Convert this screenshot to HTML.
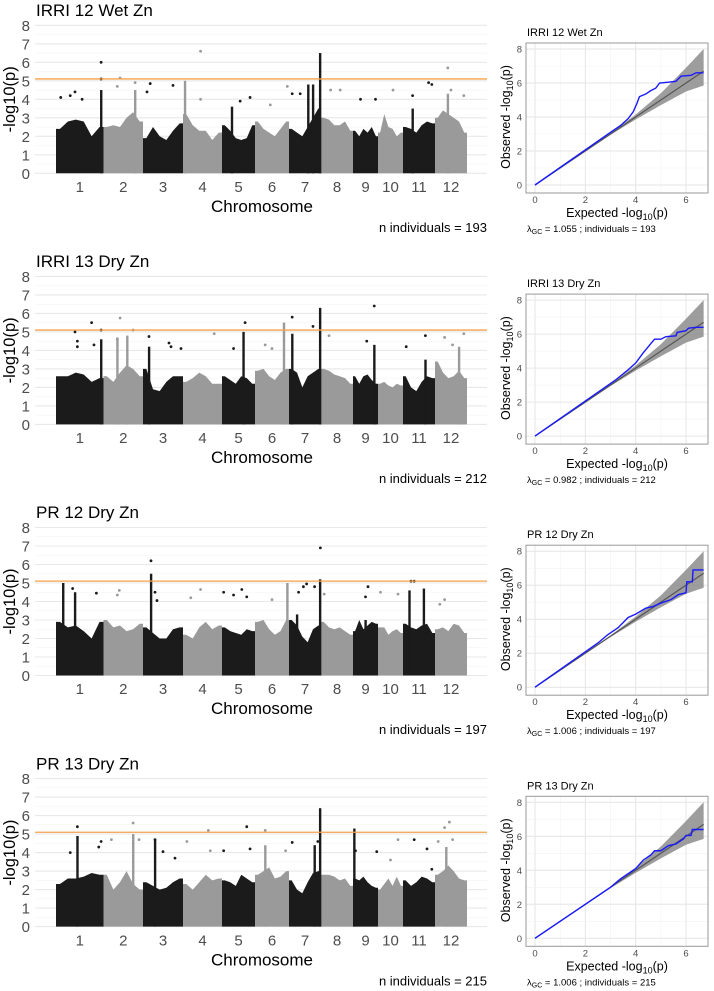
<!DOCTYPE html>
<html><head><meta charset="utf-8"><style>
html,body{margin:0;padding:0;background:#fff;}
svg{display:block;font-family:"Liberation Sans",sans-serif;}
</style></head><body>
<svg id="fig" width="714" height="991" viewBox="0 0 714 991"></svg>
<script>
// ---------- DATA ----------
const panelTitles = ["IRRI 12 Wet Zn","IRRI 13 Dry Zn","PR 12 Dry Zn","PR 13 Dry Zn"];
const nIndividuals = [193,212,197,215];
const lambdaGC = ["1.055","0.982","1.006","1.006"];
const threshold = 5.1;
const chromLabels = ["1","2","3","4","5","6","7","8","9","10","11","12"];
const chromStart = [56,103.5,143,183,222,255,289,321,353,378,403,435,467];
const yTicks = [0,1,2,3,4,5,6,7,8];
const qqTicks = [0,2,4,6];
const qqYTicks = [0,2,4,6,8];

const envelope1 = [[2.4,2.8,2.9,2.8,2.0,2.5],[2.5,2.6,2.5,3.0,3.3,2.8],[1.9,2.5,2.0,1.8,2.3,2.7],[3.2,2.6,2.3,2.3,1.8,2.2],[2.6,2.3,1.9,1.8,1.9,2.6],[2.8,2.4,2.2,2.0,2.4,2.8],[2.4,2.2,2.0,2.5,3.0,3.5],[3.0,2.9,2.6,2.6,2.8,2.3],[2.3,2.0,2.4,2.2,2.5,2.0],[2.2,3.2,2.5,2.4,2.0,2.2],[2.5,2.4,2.2,2.6,2.8,2.7],[3.0,3.4,3.2,3.0,2.8,2.2]];
const envelope2 = [[2.6,2.6,2.8,2.7,2.3,2.5],[2.6,2.3,2.8,3.2,3.0,2.6],[3.0,1.9,1.8,2.3,2.6,2.6],[2.3,2.5,2.8,2.6,2.2,2.2],[2.6,2.4,2.2,2.6,2.5,2.2],[2.9,3.0,2.6,2.4,2.8,3.0],[3.0,2.8,2.0,2.6,2.8,3.0],[3.0,2.9,2.7,2.6,2.5,2.2],[2.6,2.2,2.6,2.7,2.4,2.2],[2.2,2.3,2.1,2.0,2.2,2.1],[2.6,2.0,1.8,2.3,2.6,2.5],[3.4,2.8,2.5,2.6,2.9,2.5]];
const envelope3 = [[2.9,2.6,2.7,2.4,2.0,2.9],[3.0,2.6,2.7,2.4,2.5,2.8],[2.6,2.3,2.0,2.0,2.5,2.6],[2.2,2.0,2.6,2.9,2.5,2.7],[2.6,2.4,2.3,2.2,2.5,2.4],[2.9,3.0,2.5,2.2,2.4,3.0],[3.0,2.7,2.1,1.8,2.5,2.7],[2.9,2.6,2.5,2.6,2.4,2.2],[2.4,3.0,2.5,2.7,2.9,2.8],[2.6,2.6,2.2,2.4,2.5,2.3],[2.8,2.6,2.5,2.7,2.8,2.3],[2.5,2.6,2.4,2.8,2.7,2.3]];
const envelope4 = [[2.3,2.6,2.6,2.7,2.9,2.8],[2.8,2.0,2.4,3.0,2.3,2.0],[2.4,2.2,2.0,2.1,2.4,2.6],[2.3,2.0,2.4,2.8,2.5,2.6],[2.5,2.4,2.2,2.8,2.6,2.4],[2.8,3.0,3.2,2.6,2.7,3.0],[2.5,2.0,1.8,2.4,2.9,3.0],[2.8,2.8,2.7,2.5,2.6,2.2],[2.6,2.5,2.7,2.4,2.2,2.1],[2.0,2.3,2.6,2.2,2.7,2.2],[2.5,2.2,2.4,2.7,2.6,2.4],[2.8,3.0,3.3,3.0,2.6,2.5]];
const envelopes = [envelope1,envelope2,envelope3,envelope4];

// [chromosome, fraction along chromosome, -log10 p]
const spikes1 = [[1,0.95,4.5],[2,0.8,4.5],[4,0.05,5.0],[5,0.3,3.6],[7,0.97,6.5],[7,0.6,4.8],[7,0.75,4.8],[11,0.3,3.5],[12,0.4,4.3]];
const spikes2 = [[1,0.95,4.6],[2,0.6,4.8],[2,0.35,4.7],[3,0.15,4.2],[5,0.65,5.0],[6,0.85,5.5],[7,0.1,4.9],[7,0.97,6.3],[9,0.85,4.3],[11,0.7,3.5],[12,0.75,4.2]];
const spikes3 = [[1,0.15,5.0],[1,0.4,4.5],[3,0.2,5.5],[6,0.95,5.0],[7,0.25,3.3],[7,0.97,5.2],[9,0.5,3.0],[11,0.2,4.6],[11,0.65,4.7]];
const spikes4 = [[1,0.45,4.9],[2,0.75,5.0],[3,0.3,4.7],[6,0.3,4.4],[7,0.8,4.4],[7,0.97,6.4],[9,0.05,5.3],[12,0.35,4.3]];
const spikesAll = [spikes1,spikes2,spikes3,spikes4];

const dots1 = [[1,0.1,4.1],[1,0.4,4.4],[1,0.3,4.2],[1,0.55,4.0],[1,0.95,6.0],[1,0.95,5.1],[2,0.42,5.15],[2,0.35,4.7],[2,0.8,4.9],[3,0.1,4.4],[3,0.18,4.85],[3,0.75,4.75],[4,0.45,6.6],[4,0.45,4.0],[5,0.55,3.9],[5,0.85,4.1],[6,0.95,4.7],[6,0.45,3.7],[7,0.1,4.3],[7,0.35,4.3],[8,0.3,4.5],[8,0.6,4.5],[9,0.3,4.0],[9,0.9,4.0],[10,0.6,4.5],[11,0.3,4.2],[11,0.8,4.9],[11,0.9,4.8],[12,0.4,5.7],[12,0.5,4.5],[12,0.9,4.2]];
const dots2 = [[1,0.4,5.0],[1,0.45,4.5],[1,0.45,4.2],[1,0.75,5.5],[1,0.8,4.3],[1,0.95,5.1],[2,0.42,5.75],[2,0.35,4.6],[2,0.75,5.1],[3,0.15,4.75],[3,0.65,4.4],[3,0.7,4.2],[3,0.95,4.1],[4,0.8,4.9],[5,0.7,5.5],[5,0.35,4.1],[6,0.3,4.3],[6,0.5,4.1],[7,0.1,5.8],[7,0.75,5.3],[8,0.25,4.8],[9,0.55,4.5],[9,0.85,6.4],[11,0.1,4.2],[11,0.7,4.8],[12,0.3,4.7],[12,0.9,4.9],[12,0.55,4.3]];
const dots3 = [[1,0.35,4.7],[1,0.85,4.45],[2,0.4,4.6],[2,0.35,4.35],[3,0.2,6.2],[3,0.3,4.5],[3,0.35,4.05],[4,0.45,4.65],[4,0.2,4.2],[5,0.05,4.5],[5,0.35,4.35],[5,0.6,4.65],[5,0.75,4.25],[6,0.5,4.1],[7,0.3,4.5],[7,0.45,4.8],[7,0.55,4.95],[7,0.8,4.8],[7,0.98,6.9],[8,0.1,4.4],[9,0.6,4.8],[9,0.5,4.25],[10,0.1,4.5],[10,0.8,4.4],[11,0.25,5.1],[11,0.35,5.1],[12,0.3,4.1],[12,0.15,3.85]];
const dots4 = [[1,0.45,5.4],[1,0.3,4.0],[1,0.95,4.6],[1,0.9,4.3],[2,0.2,4.7],[2,0.75,5.6],[2,0.9,4.7],[3,0.3,4.7],[3,0.5,4.05],[3,0.8,3.7],[4,0.1,4.6],[4,0.65,5.2],[4,0.7,4.1],[5,0.05,4.1],[5,0.75,5.4],[5,0.85,4.2],[6,0.3,5.2],[6,0.9,4.1],[7,0.1,4.55],[7,0.9,4.6],[9,0.1,4.1],[9,0.95,4.05],[10,0.5,3.6],[10,0.8,4.7],[11,0.35,4.7],[11,0.75,4.2],[11,0.9,3.1],[12,0.3,5.35],[12,0.45,5.65],[12,0.1,4.6],[12,0.55,4.7]];
const dotsAll = [dots1,dots2,dots3,dots4];

// QQ: confidence band
const bandExp = [0,3,4,5,6,6.7];
const bandLo = [0,2.95,3.85,4.7,5.5,5.85];
const bandHi = [0,3.05,4.15,5.4,6.9,8.0];
const qqExp1 = [0,3,3.4,3.7,3.9,4.05,4.15,4.4,4.6,4.8,4.95,5.3,5.6,5.8,6.2,6.4,6.7];
const qqObs1 = [0,3.1,3.5,3.9,4.3,4.8,5.2,5.35,5.55,5.7,6.0,6.05,6.1,6.4,6.45,6.6,6.6];
const qqExp2 = [0,3.2,3.7,4.0,4.3,4.55,4.75,5.0,5.2,5.6,5.65,6.0,6.1,6.4,6.7];
const qqObs2 = [0,3.3,3.9,4.3,4.9,5.35,5.7,5.7,5.85,5.9,6.1,6.2,6.35,6.4,6.4];
const qqExp3 = [0,2.5,2.9,3.3,3.7,4.0,4.4,4.7,5.0,5.4,5.7,6.0,6.03,6.25,6.28,6.7];
const qqObs3 = [0,2.6,3.1,3.5,4.1,4.3,4.65,4.75,4.95,5.15,5.45,5.55,6.2,6.2,6.9,6.9];
const qqExp4 = [0,3.0,3.4,3.8,4.0,4.3,4.6,4.75,5.0,5.3,5.6,5.9,6.0,6.2,6.25,6.7];
const qqObs4 = [0,3.0,3.5,3.9,4.1,4.6,4.9,5.15,5.15,5.45,5.55,5.85,6.05,6.05,6.4,6.4];
const qqExpAll = [qqExp1,qqExp2,qqExp3,qqExp4];
const qqObsAll = [qqObs1,qqObs2,qqObs3,qqObs4];

// ---------- DRAW ----------
const NS = "http://www.w3.org/2000/svg";
const svg = document.getElementById("fig");
function mk(tag, attrs, parent, txt){
  const e = document.createElementNS(NS, tag);
  for (const k in attrs) e.setAttribute(k, attrs[k]);
  if (txt !== undefined) e.textContent = txt;
  (parent||svg).appendChild(e);
  return e;
}
const PANEL_DY = 251.1;
const BLACK = "#1b1b1b", GREY = "#9a9a9a";

for (let p = 0; p < 4; p++) {
  const off = p * PANEL_DY;
  const y0 = 173.3 + off, unit = 18.5;
  const yS = v => y0 - v * unit;
  const chrX = (c, f) => chromStart[c-1] + f * (chromStart[c] - chromStart[c-1]);

  const g = mk("g", {});
  
  

  const t = mk("text", {x:36, y:16+off, "font-size":17, fill:"#000"}, g, panelTitles[p]);
  
  

  for (let v = 0; v <= 8; v += 0.5) {
    const gl = mk("line", {x1:35, x2:487, y1:yS(v), y2:yS(v), stroke: (v%1===0)?"#e8e8e8":"#f3f3f3", "stroke-width": (v%1===0)?1.1:0.6}, g);
    
    
  }
  yTicks.forEach(v => {
    const tl = mk("text", {x:30, y:yS(v)+5.5, "font-size":15, fill:"#4d4d4d", "text-anchor":"end"}, g, String(v));
    
    
  });
  const yt = mk("text", {x:0, y:0, "font-size":16.5, fill:"#000", "text-anchor":"middle", transform:`translate(15,${yS(4)}) rotate(-90)`}, g, "-log10(p)");
  
  

  const env = envelopes[p];
  for (let c = 1; c <= 12; c++) {
    const col = (c % 2 === 1) ? BLACK : GREY;
    const vals = env[c-1], n = vals.length;
    let pts = [[chrX(c,0), yS(0)], [chrX(c,0), yS(vals[0])]];
    for (let i = 0; i < n; i++) pts.push([chrX(c,(i+0.5)/n), yS(vals[i])]);
    pts.push([chrX(c,1), yS(vals[n-1])], [chrX(c,1), yS(0)]);
    const poly = mk("polygon", {points: pts.map(q=>q.join(",")).join(" "), fill: col}, g);
    
    
    const lb = mk("text", {x:(chromStart[c-1]+chromStart[c])/2, y:192+off, "font-size":15, fill:"#4d4d4d", "text-anchor":"middle"}, g, chromLabels[c-1]);
    
    
  }
  spikesAll[p].forEach(s => {
    const col = (s[0] % 2 === 1) ? BLACK : GREY;
    const r = mk("rect", {x: chrX(s[0], s[1]) - 1.1, y: yS(s[2]), width: 2.4, height: yS(0) - yS(s[2]), fill: col}, g);
    
    
  });
  dotsAll[p].forEach(d => {
    const col = (d[0] % 2 === 1) ? BLACK : GREY;
    const ci = mk("circle", {cx: chrX(d[0], d[1]), cy: yS(d[2]), r: 1.4, fill: col}, g);
    
    
  });
  const th = mk("line", {x1:35, x2:487, y1:yS(threshold), y2:yS(threshold), stroke:"#f5a04a", "stroke-width":1.3}, g);
  
  

  const xt = mk("text", {x:262, y:212+off, "font-size":17, fill:"#000", "text-anchor":"middle"}, g, "Chromosome");
  
  
  const ni = mk("text", {x:487, y:232+off, "font-size":13, fill:"#000", "text-anchor":"end"}, g, "n individuals = " + nIndividuals[p]);
  
  

  // ---- QQ plot ----
  const q = mk("g", {});
  
  
  const bx0 = 526, bx1 = 708, by0 = 43 + off, by1 = 193 + off;
  const qx = v => 535 + v * 25.17;
  const qy = v => 185 + off - v * 17;
  const qt = mk("text", {x:527, y:36+off, "font-size":11, fill:"#000"}, q, panelTitles[p]);
  
  
  for (let v = 0; v <= 7; v += 1) {
    const gx = qx(v); if (gx < bx1) {
      const l = mk("line", {x1:gx, x2:gx, y1:by0, y2:by1, stroke: v%2===0?"#e6e6e6":"#f2f2f2", "stroke-width": v%2===0?1:0.6}, q);
      
      
    }
  }
  for (let v = 0; v <= 8; v += 1) {
    const l = mk("line", {x1:bx0, x2:bx1, y1:qy(v), y2:qy(v), stroke: v%2===0?"#e6e6e6":"#f2f2f2", "stroke-width": v%2===0?1:0.6}, q);
    
    
  }
  let bp = bandExp.map((e,i)=>qx(e)+","+qy(bandHi[i]));
  bp = bp.concat(bandExp.slice().reverse().map((e,i)=>qx(e)+","+qy(bandLo[bandLo.length-1-i])));
  const band = mk("polygon", {points: bp.join(" "), fill:"#8c8c8c", opacity:0.85}, q);
  
  
  const diag = mk("line", {x1:qx(0), y1:qy(0), x2:qx(6.7), y2:qy(6.7), stroke:"#555", "stroke-width":1.2}, q);
  
  
  const ex = qqExpAll[p], ob = qqObsAll[p];
  const ql = mk("polyline", {points: ex.map((e,i)=>qx(e)+","+qy(ob[i])).join(" "), fill:"none", stroke:"#1a1aff", "stroke-width":1.4}, q);
  
  
  const box = mk("rect", {x:bx0, y:by0, width:bx1-bx0, height:by1-by0, fill:"none", stroke:"#9a9a9a", "stroke-width":1}, q);
  
  
  qqTicks.forEach(v => {
    const a = mk("text", {x:qx(v), y:by1+10, "font-size":9.5, fill:"#4d4d4d", "text-anchor":"middle"}, q, String(v));
    
    
  });
  qqYTicks.forEach(v => {
    const b = mk("text", {x:522, y:qy(v)+3.5, "font-size":9.5, fill:"#4d4d4d", "text-anchor":"end"}, q, String(v));
    
    
  });
  const xe = mk("text", {x:617, y:217+off, "font-size":12.5, fill:"#000", "text-anchor":"middle"}, q);
  
  
  xe.innerHTML = 'Expected -log<tspan font-size="9" dy="3">10</tspan><tspan dy="-3">(p)</tspan>';
  const ye = mk("text", {x:0, y:0, "font-size":12.5, fill:"#000", "text-anchor":"middle", transform:`translate(510,${qy(4)}) rotate(-90)`}, q);
  
  
  ye.innerHTML = 'Observed -log<tspan font-size="9" dy="3">10</tspan><tspan dy="-3">(p)</tspan>';
  const lm = mk("text", {x:527, y:232+off, "font-size":9.5, fill:"#000"}, q);
  
  
  lm.innerHTML = 'λ<tspan font-size="7" dy="2">GC</tspan><tspan dy="-2"> =  ' + lambdaGC[p] + ' ;  individuals =  ' + nIndividuals[p] + '</tspan>';
}
</script>
</body></html>
